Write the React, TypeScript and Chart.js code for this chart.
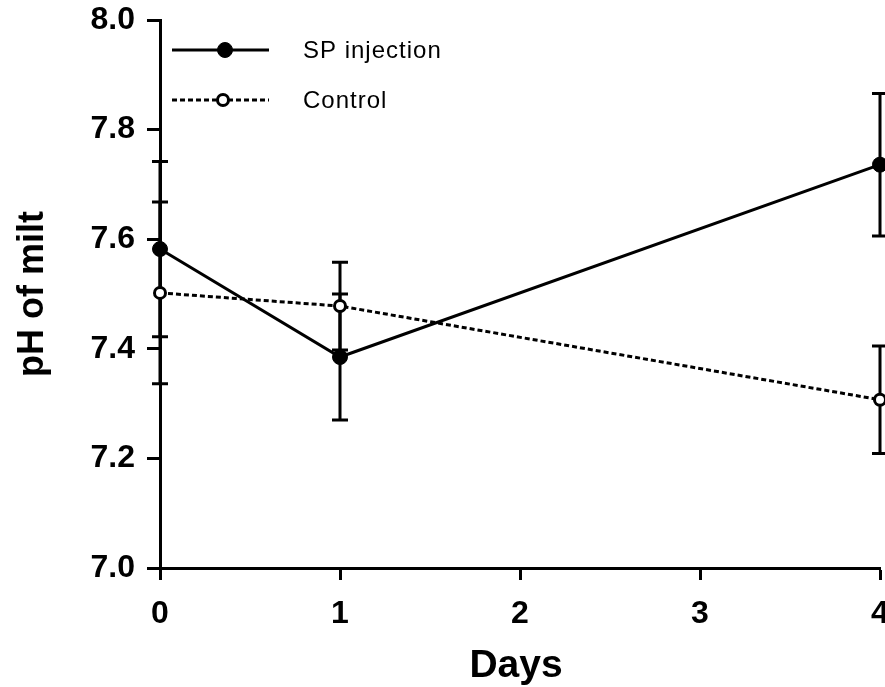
import React, { useEffect, useRef } from "react";
import { Chart, registerables } from "chart.js";

Chart.register(...registerables);

const days = [0, 1, 4];
const spMean = [7.582, 7.385, 7.736];
const spErr = [0.16, 0.115, 0.13];
const ctrlMean = [7.502, 7.478, 7.307];
const ctrlErr = [0.166, 0.08, 0.098];
const xTicks = [0, 1, 2, 3, 4];
const yTicks = [7.0, 7.2, 7.4, 7.6, 7.8, 8.0];
const seriesNames = ["SP injection", "Control"];
const xTitle = "Days";
const yTitle = "pH of milt";

const FONT = "'Liberation Sans', Arial, Helvetica, sans-serif";

const errorBarPlugin = {
  id: "errorBars",
  beforeDatasetsDraw(chart: any) {
    const ctx = chart.ctx;
    const x = chart.scales.x;
    const y = chart.scales.y;
    const sets = [
      { m: spMean, e: spErr },
      { m: ctrlMean, e: ctrlErr },
    ];
    ctx.save();
    ctx.strokeStyle = "#000";
    ctx.lineWidth = 3;
    sets.forEach((s) => {
      days.forEach((d, i) => {
        const px = x.getPixelForValue(d);
        const top = y.getPixelForValue(s.m[i] + s.e[i]);
        const bot = y.getPixelForValue(s.m[i] - s.e[i]);
        ctx.beginPath();
        ctx.moveTo(px, top);
        ctx.lineTo(px, bot);
        ctx.moveTo(px - 8, top);
        ctx.lineTo(px + 8, top);
        ctx.moveTo(px - 8, bot);
        ctx.lineTo(px + 8, bot);
        ctx.stroke();
      });
    });
    ctx.restore();
  },
};

const annotationPlugin = {
  id: "annot",
  afterDraw(chart: any) {
    const ctx = chart.ctx;
    const area = chart.chartArea;
    ctx.save();
    // axis titles
    ctx.fillStyle = "#000";
    ctx.font = `bold 39px ${FONT}`;
    ctx.textAlign = "center";
    ctx.textBaseline = "alphabetic";
    ctx.fillText(xTitle, 516, 677);
    ctx.save();
    ctx.translate(43, (area.top + area.bottom) / 2);
    ctx.rotate(-Math.PI / 2);
    ctx.font = `bold 36px ${FONT}`;
    ctx.fillText(yTitle, 0, 0);
    ctx.restore();

    // legend
    const rows = [
      { y: 50, dash: [], filled: true, mx: 225 },
      { y: 100, dash: [5, 3], filled: false, mx: 223 },
    ];
    rows.forEach((r, i) => {
      ctx.save();
      ctx.strokeStyle = "#000";
      ctx.lineWidth = 3;
      ctx.setLineDash(r.dash);
      ctx.beginPath();
      ctx.moveTo(172, r.y);
      ctx.lineTo(269, r.y);
      ctx.stroke();
      ctx.setLineDash([]);
      ctx.beginPath();
      ctx.arc(r.mx, r.y, r.filled ? 7.5 : 5.5, 0, Math.PI * 2);
      ctx.fillStyle = r.filled ? "#000" : "#fff";
      ctx.fill();
      ctx.lineWidth = r.filled ? 1 : 3;
      ctx.stroke();
      ctx.restore();
      ctx.save();
      ctx.fillStyle = "#000";
      ctx.font = `24px ${FONT}`;
      (ctx as any).letterSpacing = "1px";
      ctx.textAlign = "left";
      ctx.textBaseline = "middle";
      ctx.fillText(seriesNames[i], 303, r.y + 1);
      ctx.restore();
    });
    ctx.restore();
  },
};

export default function App() {
  const ref = useRef<HTMLCanvasElement | null>(null);
  useEffect(() => {
    if (!ref.current) return;
    const chart = new Chart(ref.current, {
      type: "line",
      data: {
        datasets: [
          {
            label: seriesNames[0],
            data: days.map((d, i) => ({ x: d, y: spMean[i] })),
            borderColor: "#000",
            borderWidth: 3,
            pointRadius: 7.5,
            pointBackgroundColor: "#000",
            pointBorderColor: "#000",
            pointBorderWidth: 1,
            clip: false as any,
          },
          {
            label: seriesNames[1],
            data: days.map((d, i) => ({ x: d, y: ctrlMean[i] })),
            borderColor: "#000",
            borderWidth: 3,
            borderDash: [5, 3],
            pointRadius: 5.5,
            pointBackgroundColor: "#fff",
            pointBorderColor: "#000",
            pointBorderWidth: 3,
            clip: false as any,
          },
        ],
      },
      options: {
        responsive: false,
        animation: false,
        layout: { autoPadding: false, padding: { top: 20, right: 5, left: 0, bottom: 0 } },
        plugins: { legend: { display: false }, tooltip: { enabled: false } },
        scales: {
          x: {
            type: "linear",
            min: 0,
            max: 4,
            afterBuildTicks: (s: any) => {
              s.ticks = xTicks.map((v) => ({ value: v }));
            },
            afterFit: (s: any) => {
              s.height = 119;
              s.paddingRight = 0;
              s.paddingLeft = 0;
            },
            grid: { display: true, drawOnChartArea: false, drawTicks: true, tickLength: 12, tickWidth: 3, color: "#000" },
            border: { display: true, width: 3, color: "#000" },
            ticks: {
              color: "#000",
              font: { family: FONT, size: 32, weight: "bold" },
              padding: 15,
              maxRotation: 0,
              callback: (v: any) => String(v),
            },
          },
          y: {
            type: "linear",
            min: 7,
            max: 8,
            afterBuildTicks: (s: any) => {
              s.ticks = yTicks.map((v) => ({ value: v }));
            },
            afterFit: (s: any) => {
              s.width = 160;
              s.paddingTop = 0;
              s.paddingBottom = 0;
            },
            grid: { display: true, drawOnChartArea: false, drawTicks: true, tickLength: 13, tickWidth: 3, color: "#000" },
            border: { display: true, width: 3, color: "#000" },
            ticks: {
              color: "#000",
              font: { family: FONT, size: 32, weight: "bold" },
              padding: 12,
              callback: (v: any) => Number(v).toFixed(1),
            },
          },
        },
      },
      plugins: [errorBarPlugin, annotationPlugin],
    });
    return () => chart.destroy();
  }, []);
  return (
    <canvas
      ref={ref}
      width={885}
      height={687}
      style={{ position: "absolute", left: 0, top: 0, display: "block" }}
    />
  );
}
